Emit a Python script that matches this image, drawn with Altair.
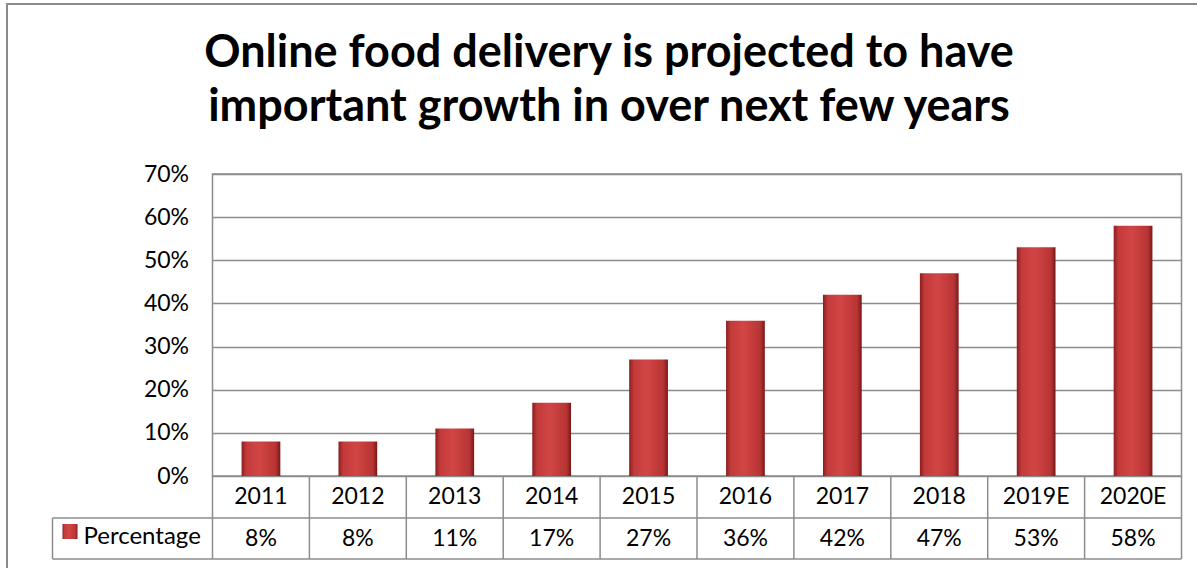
import altair as alt
import pandas as pd

title_lines = ["Online food delivery is projected to have", "important growth in over next few years"]
years = ["2011", "2012", "2013", "2014", "2015", "2016", "2017", "2018", "2019E", "2020E"]
percentage = [0.08, 0.08, 0.11, 0.17, 0.27, 0.36, 0.42, 0.47, 0.53, 0.58]
series_name = "Percentage"
y_ticks = [0, 0.1, 0.2, 0.3, 0.4, 0.5, 0.6, 0.7]

df = pd.DataFrame({"year": years, "value": percentage})
df["label"] = [f"{round(v * 100)}%" for v in percentage]

W, H = 969, 302
ROW1_BOTTOM = 344   # year row / value row separator (pixels below plot top)
TABLE_BOTTOM = 385
LEGEND_LEFT = -160
GRID = "#8c8c8c"
FONT = "Lato"

bar_grad = alt.Gradient(
    gradient="linear",
    stops=[
        alt.GradientStop(color="#8a1e1e", offset=0),
        alt.GradientStop(color="#c23a3a", offset=0.12),
        alt.GradientStop(color="#d24545", offset=0.45),
        alt.GradientStop(color="#b83434", offset=0.88),
        alt.GradientStop(color="#7a1818", offset=1),
    ],
    x1=0, x2=1, y1=0, y2=0,
)

x_enc = alt.X("year:N", sort=years, axis=None,
              scale=alt.Scale(paddingInner=0, paddingOuter=0))

base = alt.Chart(df)

bars = base.mark_bar(width=alt.RelativeBandSize(0.4), color=bar_grad).encode(
    x=x_enc,
    y=alt.Y("value:Q",
            scale=alt.Scale(domain=[0, 0.7], nice=False),
            axis=alt.Axis(values=y_ticks, format=".0%", title=None,
                          labelFontSize=23, labelColor="#000", labelFont=FONT,
                          labelPadding=24, ticks=False, domain=False,
                          grid=True, gridColor=GRID, gridWidth=1.5)),
)

year_text = base.mark_text(fontSize=23, font=FONT, color="#000", baseline="middle").encode(
    x=x_enc, y=alt.value((H + ROW1_BOTTOM) / 2), text="year:N")

value_text = base.mark_text(fontSize=23, font=FONT, color="#000", baseline="middle").encode(
    x=x_enc, y=alt.value((ROW1_BOTTOM + TABLE_BOTTOM) / 2), text="label:N")

vlines = base.mark_rule(color=GRID, strokeWidth=1.5).encode(
    x=alt.X("year:N", sort=years, axis=None, bandPosition=0,
            scale=alt.Scale(paddingInner=0, paddingOuter=0)),
    y=alt.value(H), y2=alt.value(TABLE_BOTTOM))

frame_df = alt.Data(values=[{"s": series_name}])
frame = alt.Chart(frame_df)

right_line = frame.mark_rule(color=GRID, strokeWidth=1.5).encode(
    x=alt.value(W), y=alt.value(H), y2=alt.value(TABLE_BOTTOM))
hline_mid = frame.mark_rule(color=GRID, strokeWidth=1.5).encode(
    x=alt.value(LEGEND_LEFT), x2=alt.value(W), y=alt.value(ROW1_BOTTOM))
hline_bot = frame.mark_rule(color=GRID, strokeWidth=1.5).encode(
    x=alt.value(LEGEND_LEFT), x2=alt.value(W), y=alt.value(TABLE_BOTTOM))
legend_left = frame.mark_rule(color=GRID, strokeWidth=1.5).encode(
    x=alt.value(LEGEND_LEFT), y=alt.value(ROW1_BOTTOM), y2=alt.value(TABLE_BOTTOM))

legend_sq = frame.mark_rect(color=bar_grad).encode(
    x=alt.value(LEGEND_LEFT + 10), x2=alt.value(LEGEND_LEFT + 25),
    y=alt.value(ROW1_BOTTOM + 6), y2=alt.value(ROW1_BOTTOM + 21))
legend_txt = frame.mark_text(fontSize=24, font=FONT, color="#000", align="left",
                             baseline="middle").encode(
    x=alt.value(LEGEND_LEFT + 31), y=alt.value((ROW1_BOTTOM + TABLE_BOTTOM) / 2 - 2),
    text="s:N")

outer = frame.mark_rect(fillOpacity=0, stroke="#8a8a8a", strokeWidth=2).encode(
    x=alt.value(-205.5), x2=alt.value(W + 40), y=alt.value(-170), y2=alt.value(TABLE_BOTTOM + 40))

title_df = alt.Data(values=[{"t": title_lines}])
title = alt.Chart(title_df).mark_text(fontSize=45, font=FONT, fontWeight="bold", color="#000",
                                      align="center", baseline="alphabetic", lineHeight=54).encode(
    x=alt.value(609 - 212.5), y=alt.value(67 - 174), text="t:N")

chart = alt.layer(
    outer, bars, vlines, right_line, hline_mid, hline_bot, legend_left,
    year_text, value_text, legend_sq, legend_txt, title
).properties(
    width=W, height=H,
    padding={"left": 212.5, "top": 174, "right": 15.5, "bottom": 92},
    autosize=alt.AutoSizeParams(type="none"),
    background="white",
).configure_view(stroke=GRID, strokeWidth=1.5)

chart.save("out.html", embed_options={"renderer": "svg", "actions": False})
